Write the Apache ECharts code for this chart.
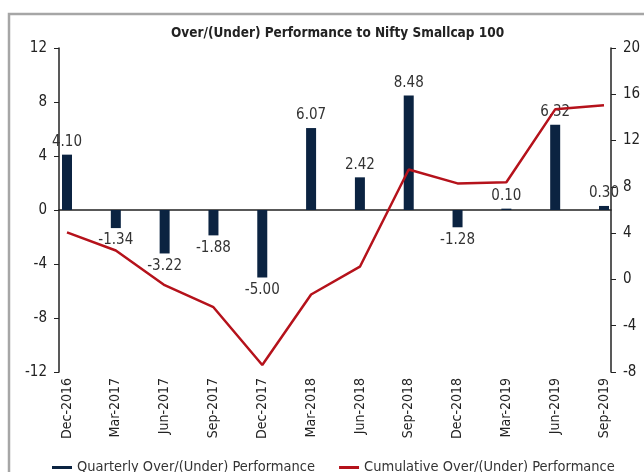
<!DOCTYPE html>
<html>
<head>
<meta charset="utf-8">
<script src="https://cdn.jsdelivr.net/npm/echarts@6/dist/echarts.min.js"></script>
<style>
  html, body { margin: 0; padding: 0; background: #fff; }
  #chart { width: 644px; height: 472px; }
</style>
</head>
<body>
<div id="chart"></div>
<script>
// 数据
const quarters = ['Dec-2016', 'Mar-2017', 'Jun-2017', 'Sep-2017', 'Dec-2017', 'Mar-2018',
  'Jun-2018', 'Sep-2018', 'Dec-2018', 'Mar-2019', 'Jun-2019', 'Sep-2019']
const quarterly = [4.10, -1.34, -3.22, -1.88, -5.00, 6.07, 2.42, 8.48, -1.28, 0.10, 6.32, 0.30]
const cumulative = [4.07, 2.5, -0.5, -2.4, -7.4, -1.3, 1.1, 9.5, 8.3, 8.4, 14.7, 15.05]
const leftTicks = [-12, -8, -4, 0, 4, 8, 12]
const rightTicks = [-8, -4, 0, 4, 8, 12, 16, 20]

const FONT = '"DejaVu Sans Condensed", "Liberation Sans Narrow", sans-serif'
const NAVY = '#0b2341'
const RED = '#b5121b'

let chart = echarts.init(document.getElementById('chart'))

let option = {
  backgroundColor: '#fff',
  animation: false,
  title: {
    text: 'Over/(Under) Performance to Nifty Smallcap 100',
    left: 171,
    top: 26,
    padding: 0,
    textStyle: { fontFamily: FONT, fontSize: 13.5, fontWeight: 'bold', color: '#222' },
  },
  legend: {
    top: 460,
    left: 52,
    padding: 0,
    width: 600,
    itemGap: 24,
    itemWidth: 20,
    itemHeight: 3,
    icon: 'rect',
    textStyle: { fontFamily: FONT, fontSize: 14.5, color: '#333' },
    data: ['Quarterly Over/(Under) Performance', 'Cumulative Over/(Under) Performance'],
  },
  // 外框
  graphic: [
    {
      type: 'polyline',
      shape: { points: [[9, 480], [9, 14], [650, 14]] },
      style: { stroke: '#a6a6a6', lineWidth: 2.5, fill: null },
      silent: true,
    },
  ],
  grid: [
    { left: 67, right: 40, top: 48, bottom: 100 },
    { left: 59, right: 33, top: 48, bottom: 100 },
  ],
  xAxis: [
    {
      type: 'category',
      gridIndex: 0,
      data: quarters,
      boundaryGap: false,
      axisLine: { show: false, onZero: false },
      axisTick: { show: false },
      axisLabel: { rotate: 90, margin: 6, fontFamily: FONT, fontSize: 14, color: '#222' },
    },
    {
      // 零线，比类目轴更宽
      type: 'category',
      gridIndex: 1,
      data: [''],
      axisLine: { show: true, onZero: true, lineStyle: { color: '#222', width: 1.5 } },
      axisTick: { show: false },
      axisLabel: { show: false },
    },
  ],
  yAxis: [
    {
      type: 'value',
      gridIndex: 0,
      position: 'left',
      offset: 8,
      min: leftTicks[0],
      max: leftTicks[leftTicks.length - 1],
      interval: leftTicks[1] - leftTicks[0],
      splitLine: { show: false },
      axisLine: { show: true, lineStyle: { color: '#222', width: 1.5 } },
      axisTick: { show: true, length: 5, lineStyle: { color: '#222' } },
      axisLabel: { margin: 12, fontFamily: FONT, fontSize: 15, color: '#222' },
    },
    {
      type: 'value',
      gridIndex: 0,
      position: 'right',
      offset: 7,
      min: rightTicks[0],
      max: rightTicks[rightTicks.length - 1],
      interval: rightTicks[1] - rightTicks[0],
      splitLine: { show: false },
      axisLine: { show: true, lineStyle: { color: '#222', width: 1.5 } },
      axisTick: { show: true, length: 5, lineStyle: { color: '#222' } },
      axisLabel: { margin: 12, fontFamily: FONT, fontSize: 15, color: '#222' },
    },
    {
      type: 'value',
      gridIndex: 1,
      min: leftTicks[0],
      max: leftTicks[leftTicks.length - 1],
      show: false,
    },
  ],
  series: [
    {
      name: 'Quarterly Over/(Under) Performance',
      type: 'bar',
      xAxisIndex: 0,
      yAxisIndex: 0,
      barWidth: 10,
      itemStyle: { color: NAVY },
      label: {
        show: true,
        distance: 5,
        fontFamily: FONT,
        fontSize: 15,
        color: '#333',
        formatter: (p) => p.value.toFixed(2),
      },
      data: quarterly.map((v) => ({
        value: v,
        label: { position: v < 0 ? 'bottom' : 'top' },
      })),
      z: 2,
    },
    {
      name: 'Cumulative Over/(Under) Performance',
      type: 'line',
      xAxisIndex: 0,
      yAxisIndex: 1,
      symbol: 'none',
      itemStyle: { color: RED },
      lineStyle: { color: RED, width: 2.5 },
      data: cumulative,
      z: 3,
    },
  ],
}

chart.setOption(option)
</script>
</body>
</html>
